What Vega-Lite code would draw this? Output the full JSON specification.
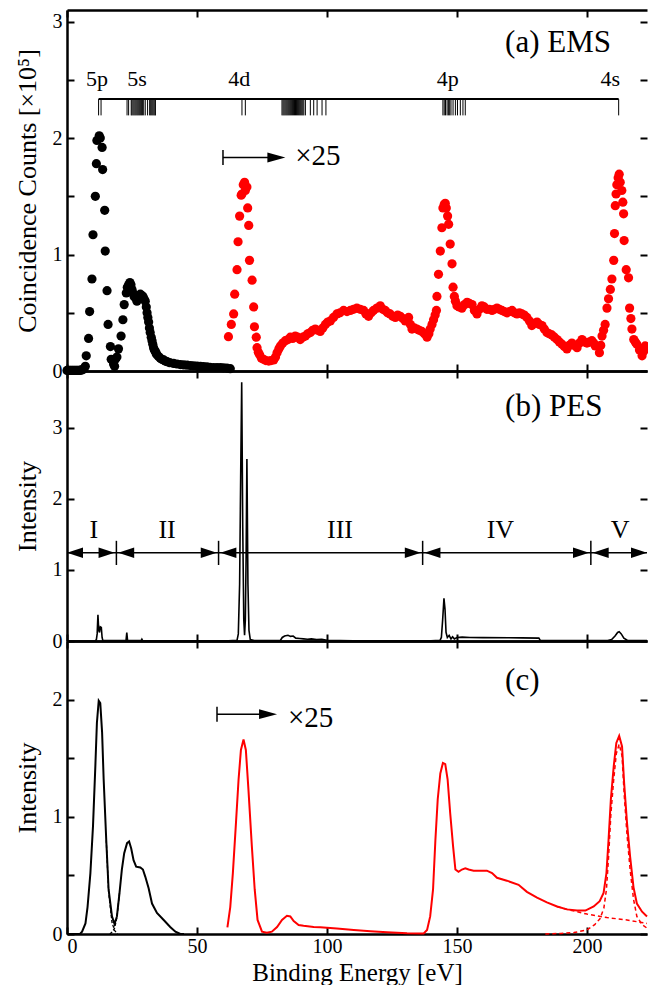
{
"$schema": "https://vega.github.io/schema/vega-lite/v6.json",
"padding": {"left": 14, "top": 9, "right": 0, "bottom": 0},
"spacing": 0,
"bounds": "flush",
"config": {
  "font": "Liberation Serif",
  "view": {"stroke": null},
  "axis": {"domain": true, "domainColor": "black", "domainWidth": 2.5, "grid": false, "tickColor": "black", "tickWidth": 2, "tickSize": -7, "labelColor": "black", "labelFontSize": 20, "titleFontSize": 26, "titleFontWeight": "normal", "titleColor": "black", "labelFont": "Liberation Serif", "titleFont": "Liberation Serif"},
  "text": {"font": "Liberation Serif", "color": "black"}
},
"datasets": {
  "ems_black": [
    {"E":0,"C":0.005},{"E":0.5,"C":0.005},{"E":1,"C":0.005},{"E":1.5,"C":0.005},{"E":2,"C":0.005},{"E":2.5,"C":0.005},{"E":3,"C":0.005},{"E":3.5,"C":0.005},{"E":4,"C":0.005},{"E":4.5,"C":0.005},{"E":5,"C":0.005},{"E":5.5,"C":0.01},{"E":6,"C":0.01},{"E":6.5,"C":0.02},{"E":7.05,"C":0.04},{"E":7.4,"C":0.13},{"E":8.3,"C":0.28},{"E":8.7,"C":0.51},{"E":9.6,"C":0.79},{"E":10.0,"C":1.17},{"E":10.9,"C":1.5},{"E":11.3,"C":1.78},{"E":11.5,"C":1.98},{"E":12.4,"C":2.02},{"E":12.8,"C":2.0},{"E":13.5,"C":1.92},{"E":13.7,"C":1.73},{"E":14.5,"C":1.38},{"E":14.7,"C":1.03},{"E":15.4,"C":0.69},{"E":15.8,"C":0.4},{"E":16.7,"C":0.21},{"E":17.0,"C":0.1},{"E":17.9,"C":0.06},{"E":18.3,"C":0.04},{"E":18.6,"C":0.1},{"E":19.2,"C":0.12},{"E":19.8,"C":0.19},{"E":20.8,"C":0.3},{"E":21.5,"C":0.44},{"E":22.0,"C":0.57},{"E":22.8,"C":0.67},{"E":23.2,"C":0.72},{"E":23.7,"C":0.74},{"E":24.2,"C":0.76},{"E":24.6,"C":0.74},{"E":25.0,"C":0.7},{"E":25.4,"C":0.67},{"E":25.8,"C":0.64},{"E":26.3,"C":0.63},{"E":26.9,"C":0.6},{"E":27.4,"C":0.62},{"E":27.8,"C":0.65},{"E":28.2,"C":0.66},{"E":28.7,"C":0.65},{"E":29.2,"C":0.64},{"E":29.6,"C":0.62},{"E":30.1,"C":0.6},{"E":30.5,"C":0.55},{"E":30.8,"C":0.5},{"E":31.1,"C":0.46},{"E":31.4,"C":0.42},{"E":31.7,"C":0.37},{"E":32.0,"C":0.33},{"E":32.4,"C":0.29},{"E":32.7,"C":0.26},{"E":33.0,"C":0.23},{"E":33.3,"C":0.2},{"E":33.6,"C":0.18},{"E":34.0,"C":0.17},{"E":34.3,"C":0.15},{"E":34.6,"C":0.14},{"E":35.2,"C":0.125},{"E":35.9,"C":0.11},{"E":36.5,"C":0.1},{"E":37.2,"C":0.095},{"E":37.8,"C":0.085},{"E":38.5,"C":0.08},{"E":39.5,"C":0.072},{"E":41.0,"C":0.065},{"E":42.3,"C":0.06},{"E":43.6,"C":0.055},{"E":44.9,"C":0.052},{"E":46.2,"C":0.05},{"E":47.5,"C":0.047},{"E":48.7,"C":0.045},{"E":50,"C":0.042},{"E":51.3,"C":0.04},{"E":52.5,"C":0.037},{"E":53.8,"C":0.035},{"E":55,"C":0.032},{"E":56.4,"C":0.03},{"E":57.7,"C":0.03},{"E":59,"C":0.03},{"E":60.2,"C":0.027},{"E":61.5,"C":0.025},{"E":62.8,"C":0.02}
  ],
  "ems_red": [
    {"E":62.1,"C":0.295},{"E":63.2,"C":0.4},{"E":64.1,"C":0.49},{"E":64.5,"C":0.66},{"E":65.4,"C":0.87},{"E":65.8,"C":1.11},{"E":66.4,"C":1.33},{"E":67.0,"C":1.51},{"E":67.3,"C":1.52},{"E":67.8,"C":1.6},{"E":68.3,"C":1.62},{"E":68.6,"C":1.55},{"E":69.2,"C":1.58},{"E":69.5,"C":1.4},{"E":69.9,"C":1.25},{"E":70.2,"C":0.95},{"E":71.2,"C":0.78},{"E":71.8,"C":0.55},{"E":72.1,"C":0.38},{"E":72.8,"C":0.29},{"E":73.1,"C":0.2},{"E":73.6,"C":0.16},{"E":74.1,"C":0.14},{"E":74.8,"C":0.11},{"E":75.6,"C":0.1},{"E":76.5,"C":0.09},{"E":77.6,"C":0.085},{"E":78.5,"C":0.09},{"E":79.5,"C":0.095},{"E":80.2,"C":0.12},{"E":80.8,"C":0.157},{"E":81.5,"C":0.19},{"E":82.1,"C":0.215},{"E":83,"C":0.24},{"E":84,"C":0.26},{"E":85,"C":0.27},{"E":85.9,"C":0.29},{"E":86.8,"C":0.28},{"E":87.8,"C":0.3},{"E":88.7,"C":0.29},{"E":89.7,"C":0.27},{"E":90.7,"C":0.29},{"E":91.7,"C":0.3},{"E":92.6,"C":0.32},{"E":93.6,"C":0.33},{"E":94.5,"C":0.35},{"E":95.5,"C":0.36},{"E":96.4,"C":0.35},{"E":97.4,"C":0.34},{"E":98.4,"C":0.37},{"E":99.4,"C":0.4},{"E":100.3,"C":0.42},{"E":101.3,"C":0.43},{"E":102.5,"C":0.46},{"E":103.8,"C":0.49},{"E":105,"C":0.5},{"E":106.4,"C":0.52},{"E":107.7,"C":0.51},{"E":109,"C":0.52},{"E":110.2,"C":0.53},{"E":111.5,"C":0.54},{"E":112.8,"C":0.53},{"E":114.1,"C":0.52},{"E":115,"C":0.49},{"E":116,"C":0.47},{"E":117,"C":0.5},{"E":117.9,"C":0.52},{"E":119.2,"C":0.54},{"E":120.5,"C":0.56},{"E":121.5,"C":0.53},{"E":122.4,"C":0.52},{"E":123.3,"C":0.5},{"E":124.3,"C":0.49},{"E":125.3,"C":0.47},{"E":126.3,"C":0.46},{"E":127.2,"C":0.48},{"E":128.2,"C":0.47},{"E":129.2,"C":0.45},{"E":130.1,"C":0.43},{"E":131.4,"C":0.46},{"E":132.1,"C":0.4},{"E":132.7,"C":0.36},{"E":133.6,"C":0.37},{"E":134.6,"C":0.36},{"E":135.5,"C":0.35},{"E":136.5,"C":0.34},{"E":137.5,"C":0.32},{"E":138.5,"C":0.29},{"E":139.2,"C":0.32},{"E":139.7,"C":0.36},{"E":140.4,"C":0.4},{"E":141,"C":0.44},{"E":141.6,"C":0.48},{"E":142.1,"C":0.52},{"E":142.3,"C":0.64},{"E":142.9,"C":0.83},{"E":143.6,"C":1.03},{"E":144.2,"C":1.23},{"E":144.6,"C":1.4},{"E":145.1,"C":1.43},{"E":145.5,"C":1.44},{"E":145.9,"C":1.4},{"E":146.4,"C":1.33},{"E":146.8,"C":1.26},{"E":147.4,"C":1.09},{"E":148.1,"C":0.92},{"E":148.5,"C":0.72},{"E":149,"C":0.64},{"E":149.4,"C":0.6},{"E":150,"C":0.56},{"E":150.9,"C":0.55},{"E":151.9,"C":0.54},{"E":152.9,"C":0.57},{"E":153.9,"C":0.59},{"E":154.8,"C":0.58},{"E":155.8,"C":0.57},{"E":156.7,"C":0.52},{"E":157.7,"C":0.49},{"E":158.6,"C":0.53},{"E":159.6,"C":0.56},{"E":160.5,"C":0.55},{"E":161.5,"C":0.53},{"E":162.5,"C":0.53},{"E":163.5,"C":0.52},{"E":164.4,"C":0.53},{"E":165.4,"C":0.54},{"E":166.3,"C":0.53},{"E":167.3,"C":0.52},{"E":168.2,"C":0.51},{"E":169.2,"C":0.5},{"E":170.2,"C":0.51},{"E":171.2,"C":0.52},{"E":172.1,"C":0.5},{"E":173.1,"C":0.49},{"E":174,"C":0.5},{"E":175,"C":0.49},{"E":175.9,"C":0.48},{"E":176.9,"C":0.46},{"E":177.9,"C":0.43},{"E":178.8,"C":0.39},{"E":179.8,"C":0.41},{"E":180.8,"C":0.42},{"E":181.7,"C":0.4},{"E":182.7,"C":0.39},{"E":183.6,"C":0.36},{"E":184.6,"C":0.33},{"E":185.5,"C":0.32},{"E":186.5,"C":0.31},{"E":187.5,"C":0.29},{"E":188.5,"C":0.27},{"E":189.4,"C":0.25},{"E":190.4,"C":0.23},{"E":191.3,"C":0.21},{"E":192.3,"C":0.19},{"E":193.2,"C":0.22},{"E":194.2,"C":0.24},{"E":195.2,"C":0.22},{"E":196.2,"C":0.2},{"E":197.1,"C":0.24},{"E":198.1,"C":0.27},{"E":199,"C":0.25},{"E":200,"C":0.24},{"E":201,"C":0.25},{"E":201.9,"C":0.26},{"E":202.6,"C":0.24},{"E":203.2,"C":0.215},{"E":204.8,"C":0.157},{"E":205.3,"C":0.22},{"E":205.8,"C":0.3},{"E":206.4,"C":0.35},{"E":207,"C":0.4},{"E":207.7,"C":0.54},{"E":208.3,"C":0.62},{"E":209,"C":0.7},{"E":209.6,"C":0.79},{"E":210.3,"C":0.95},{"E":210.6,"C":1.18},{"E":210.9,"C":1.42},{"E":211.2,"C":1.52},{"E":211.5,"C":1.6},{"E":212.0,"C":1.66},{"E":212.4,"C":1.69},{"E":212.8,"C":1.62},{"E":213.4,"C":1.55},{"E":213.8,"C":1.45},{"E":214.1,"C":1.35},{"E":214.3,"C":1.12},{"E":215.1,"C":0.87},{"E":216,"C":0.8},{"E":216.4,"C":0.54},{"E":216.9,"C":0.45},{"E":217.3,"C":0.36},{"E":218,"C":0.27},{"E":218.6,"C":0.25},{"E":219.2,"C":0.23},{"E":220.2,"C":0.18},{"E":221.2,"C":0.13},{"E":221.8,"C":0.17},{"E":222.4,"C":0.215},{"E":223,"C":0.2}
  ],
  "comb_ticks": [
    {"E":12.15},{"E":13.1},
    {"E":23.1},{"E":23.7},{"E":24.7},{"E":25.0},{"E":25.4},{"E":25.8},{"E":26.2},{"E":26.6},{"E":27.0},{"E":27.4},{"E":27.8},{"E":28.2},{"E":28.6},{"E":29.0},{"E":29.5},{"E":30.1},{"E":31.0},{"E":31.8},{"E":32.2},{"E":32.6},{"E":33.0},{"E":33.4},{"E":33.8},{"E":34.0},
    {"E":67.3},{"E":68.6},
    {"E":82.7},{"E":83.1},{"E":83.5},{"E":83.9},{"E":84.3},{"E":84.7},{"E":85.1},{"E":85.5},{"E":85.9},{"E":86.3},{"E":86.7},{"E":87.1},{"E":87.5},{"E":87.9},{"E":88.3},{"E":88.7},{"E":89.1},{"E":89.5},{"E":89.9},{"E":90.3},{"E":90.7},{"E":91.1},{"E":91.7},{"E":93.6},{"E":94.9},{"E":96.2},{"E":98.1},{"E":99.6},
    {"E":144.6},{"E":145.1},{"E":145.6},{"E":146.2},{"E":146.7},{"E":147.2},{"E":147.7},{"E":148.5},{"E":149.4},{"E":150.2},{"E":151.3},{"E":152.3},{"E":153.2},
    {"E":212.2}
  ],
  "comb_labels": [
    {"E":11.5,"t":"5p"},{"E":26.9,"t":"5s"},{"E":66.3,"t":"4d"},{"E":146.5,"t":"4p"},{"E":209,"t":"4s"}
  ],
  "pes": [
    {"E":0,"I":0},{"E":10.8,"I":0},{"E":11.3,"I":0.02},{"E":11.6,"I":0.1},{"E":11.9,"I":0.37},{"E":12.2,"I":0.15},{"E":12.5,"I":0.12},{"E":12.8,"I":0.2},{"E":13.2,"I":0.19},{"E":13.5,"I":0.05},{"E":13.8,"I":0.005},{"E":22.7,"I":0.005},{"E":23.0,"I":0.12},{"E":23.3,"I":0.005},{"E":28.5,"I":0.005},{"E":28.8,"I":0.025},{"E":29.1,"I":0.005},{"E":40,"I":0.003},{"E":62,"I":0.003},{"E":65.4,"I":0.01},{"E":65.9,"I":0.1},{"E":66.4,"I":0.8},{"E":66.8,"I":2.3},{"E":67.2,"I":3.64},{"E":67.6,"I":1.6},{"E":68.0,"I":0.3},{"E":68.3,"I":0.08},{"E":68.6,"I":0.3},{"E":68.9,"I":1.2},{"E":69.2,"I":2.56},{"E":69.6,"I":0.8},{"E":70.0,"I":0.15},{"E":70.5,"I":0.02},{"E":72,"I":0.005},{"E":82,"I":0.005},{"E":82.8,"I":0.05},{"E":83.7,"I":0.07},{"E":85,"I":0.08},{"E":86,"I":0.065},{"E":87,"I":0.07},{"E":88,"I":0.04},{"E":89.5,"I":0.035},{"E":91,"I":0.03},{"E":92.5,"I":0.025},{"E":94,"I":0.03},{"E":96,"I":0.02},{"E":98,"I":0.025},{"E":100,"I":0.01},{"E":110,"I":0.004},{"E":140,"I":0.004},{"E":143.5,"I":0.01},{"E":144.0,"I":0.05},{"E":144.5,"I":0.3},{"E":145.0,"I":0.6},{"E":145.4,"I":0.45},{"E":145.8,"I":0.12},{"E":146.3,"I":0.05},{"E":147,"I":0.08},{"E":147.7,"I":0.03},{"E":148.3,"I":0.06},{"E":149,"I":0.03},{"E":150,"I":0.05},{"E":152,"I":0.055},{"E":155,"I":0.05},{"E":160,"I":0.048},{"E":170,"I":0.045},{"E":175,"I":0.044},{"E":181.5,"I":0.04},{"E":182,"I":0.01},{"E":185,"I":0.005},{"E":208,"I":0.005},{"E":209.5,"I":0.02},{"E":210.8,"I":0.07},{"E":211.8,"I":0.12},{"E":212.4,"I":0.13},{"E":213.2,"I":0.1},{"E":214.2,"I":0.04},{"E":215.5,"I":0.01},{"E":217,"I":0.005},{"E":223.1,"I":0.005}
  ],
  "region_bars": [{"E":19},{"E":58.3},{"E":136.8},{"E":201.5}],
  "heads_right": [{"E":18.3},{"E":57.6},{"E":136.1},{"E":200.8},{"E":223.1}],
  "heads_left": [{"E":0},{"E":19.7},{"E":59.0},{"E":137.5},{"E":202.2}],
  "region_labels": [{"E":10.3,"t":"I"},{"E":38.5,"t":"II"},{"E":105,"t":"III"},{"E":166.7,"t":"IV"},{"E":212.8,"t":"V"}],
  "c_black": [
    {"E":0,"I":0},{"E":5,"I":0},{"E":5.8,"I":0.02},{"E":7.1,"I":0.09},{"E":7.9,"I":0.23},{"E":9,"I":0.52},{"E":10,"I":0.92},{"E":10.9,"I":1.43},{"E":11.5,"I":1.8},{"E":12.2,"I":1.99},{"E":12.8,"I":1.97},{"E":13.5,"I":1.72},{"E":14.1,"I":1.32},{"E":15.1,"I":0.8},{"E":16,"I":0.38},{"E":17.3,"I":0.15},{"E":18.3,"I":0.085},{"E":19.2,"I":0.15},{"E":20.2,"I":0.35},{"E":21.1,"I":0.55},{"E":22.0,"I":0.69},{"E":23.1,"I":0.775},{"E":23.9,"I":0.79},{"E":24.7,"I":0.73},{"E":25.6,"I":0.63},{"E":26.6,"I":0.575},{"E":28.2,"I":0.567},{"E":29.2,"I":0.55},{"E":30.1,"I":0.49},{"E":31.4,"I":0.39},{"E":32.7,"I":0.26},{"E":34.6,"I":0.18},{"E":37.2,"I":0.12},{"E":39.7,"I":0.06},{"E":41.7,"I":0.02},{"E":43.6,"I":0.0},{"E":45,"I":0.0}
  ],
  "c_black_5p": [{"E":15.1,"I":0.8},{"E":16,"I":0.36},{"E":17.3,"I":0.1},{"E":18.3,"I":0.03},{"E":19.5,"I":0.0}],
  "c_black_5s": [{"E":16.5,"I":0.0},{"E":17.5,"I":0.02},{"E":18.3,"I":0.05},{"E":19.2,"I":0.14},{"E":20.2,"I":0.35}],
  "c_red": [
    {"E":61.7,"I":0.057},{"E":62.8,"I":0.23},{"E":63.8,"I":0.52},{"E":65.0,"I":0.95},{"E":66.0,"I":1.32},{"E":66.9,"I":1.57},{"E":67.9,"I":1.66},{"E":68.8,"I":1.57},{"E":69.8,"I":1.23},{"E":71.1,"I":0.75},{"E":72.2,"I":0.38},{"E":73.3,"I":0.12},{"E":75,"I":0.02},{"E":76.9,"I":0.01},{"E":78.8,"I":0.02},{"E":80.8,"I":0.06},{"E":82.7,"I":0.12},{"E":84.6,"I":0.155},{"E":85.9,"I":0.15},{"E":87.2,"I":0.11},{"E":89.1,"I":0.077},{"E":91,"I":0.07},{"E":94.9,"I":0.06},{"E":97.4,"I":0.057},{"E":103.8,"I":0.046},{"E":110.3,"I":0.034},{"E":116.7,"I":0.023},{"E":123.1,"I":0.014},{"E":130.8,"I":0.006},{"E":137.2,"I":0.005},{"E":138.5,"I":0.034},{"E":139.7,"I":0.15},{"E":140.8,"I":0.38},{"E":141.7,"I":0.8},{"E":142.6,"I":1.15},{"E":143.6,"I":1.37},{"E":144.6,"I":1.46},{"E":145.5,"I":1.45},{"E":146.4,"I":1.32},{"E":147.4,"I":1.03},{"E":148.5,"I":0.75},{"E":149.4,"I":0.55},{"E":150.6,"I":0.53},{"E":151.9,"I":0.55},{"E":153.2,"I":0.56},{"E":154.5,"I":0.55},{"E":156.4,"I":0.54},{"E":158.3,"I":0.54},{"E":161.5,"I":0.54},{"E":163.5,"I":0.52},{"E":165.4,"I":0.48},{"E":169.2,"I":0.455},{"E":173.7,"I":0.42},{"E":176.9,"I":0.36},{"E":180.8,"I":0.31},{"E":184.6,"I":0.27},{"E":188.5,"I":0.235},{"E":192.3,"I":0.21},{"E":196.2,"I":0.2},{"E":199.4,"I":0.2},{"E":202.6,"I":0.235},{"E":204.9,"I":0.28},{"E":206.4,"I":0.35},{"E":207.5,"I":0.52},{"E":208.3,"I":0.8},{"E":209.2,"I":1.15},{"E":210.3,"I":1.43},{"E":211.3,"I":1.63},{"E":212.4,"I":1.69},{"E":213.5,"I":1.6},{"E":214.3,"I":1.29},{"E":215.4,"I":0.95},{"E":216.6,"I":0.66},{"E":217.9,"I":0.4},{"E":219.2,"I":0.26},{"E":221.2,"I":0.19},{"E":223.1,"I":0.15}
  ],
  "c_red_tail": [{"E":188.5,"I":0.235},{"E":192.3,"I":0.21},{"E":196.2,"I":0.19},{"E":200,"I":0.17},{"E":203.8,"I":0.155},{"E":207.7,"I":0.14},{"E":211.5,"I":0.13},{"E":215.4,"I":0.12},{"E":219.2,"I":0.105},{"E":223.1,"I":0.09}],
  "c_red_4s": [{"E":184,"I":0.0},{"E":190,"I":0.005},{"E":195,"I":0.012},{"E":200,"I":0.035},{"E":203,"I":0.08},{"E":205,"I":0.13},{"E":206.5,"I":0.22},{"E":207.5,"I":0.38},{"E":208.3,"I":0.65},{"E":209.2,"I":1.02},{"E":210.3,"I":1.32},{"E":211.3,"I":1.54},{"E":212.4,"I":1.62},{"E":213.5,"I":1.52},{"E":214.3,"I":1.2},{"E":215.4,"I":0.85},{"E":216.6,"I":0.55},{"E":217.9,"I":0.3},{"E":219.2,"I":0.15},{"E":221.2,"I":0.08},{"E":223.1,"I":0.05}],
  "one": [{}]
},
"vconcat": [
  {
    "width": 580, "height": 361,
    "layer": [
      {"data": {"name": "ems_black"}, "mark": {"type": "point", "filled": true, "size": 85, "color": "black", "opacity": 1},
       "encoding": {
         "x": {"field": "E", "type": "quantitative", "scale": {"domain": [0, 223.1], "nice": false, "zero": false}, "axis": {"orient": "bottom", "values": [0,50,100,150,200], "labels": false, "title": null}},
         "y": {"field": "C", "type": "quantitative", "scale": {"domain": [0, 3.1], "nice": false}, "axis": {"orient": "left", "values": [0,0.5,1,1.5,2,2.5,3], "labelExpr": "datum.value % 1 === 0 ? format(datum.value, 'd') : ''", "labelPadding": 12, "titlePadding": 12, "title": "Coincidence Counts [×10⁵]"}}
       }},
      {"data": {"name": "ems_red"}, "mark": {"type": "point", "filled": true, "size": 85, "color": "#ff0000", "opacity": 1},
       "encoding": {
         "x": {"field": "E", "type": "quantitative", "axis": {"orient": "top", "values": [0,50,100,150,200], "labels": false, "title": null}},
         "y": {"field": "C", "type": "quantitative", "axis": {"orient": "right", "domain": false, "values": [0,0.5,1,1.5,2,2.5,3], "labels": false, "title": null}}
       }},
      {"data": {"name": "one"}, "mark": {"type": "rule", "color": "black", "strokeWidth": 2},
       "encoding": {"x": {"datum": 12.15, "type": "quantitative", "axis": null}, "x2": {"datum": 212.2}, "y": {"datum": 2.335, "type": "quantitative", "axis": null}}},
      {"data": {"name": "comb_ticks"}, "mark": {"type": "rule", "color": "black", "strokeWidth": 1},
       "encoding": {"x": {"field": "E", "type": "quantitative", "axis": null}, "y": {"datum": 2.335, "type": "quantitative", "axis": null}, "y2": {"datum": 2.195}}},
      {"data": {"name": "comb_labels"}, "mark": {"type": "text", "fontSize": 22, "align": "center", "baseline": "alphabetic"},
       "encoding": {"x": {"field": "E", "type": "quantitative", "axis": null}, "y": {"datum": 2.45, "type": "quantitative", "axis": null}, "text": {"field": "t"}}},
      {"data": {"name": "one"}, "mark": {"type": "rule", "color": "black", "strokeWidth": 1.5},
       "encoding": {"x": {"datum": 60, "type": "quantitative", "axis": null}, "y": {"datum": 1.77, "type": "quantitative", "axis": null}, "y2": {"datum": 1.898}}},
      {"data": {"name": "one"}, "mark": {"type": "rule", "color": "black", "strokeWidth": 1.5},
       "encoding": {"x": {"datum": 60, "type": "quantitative", "axis": null}, "x2": {"datum": 80}, "y": {"datum": 1.834, "type": "quantitative", "axis": null}}},
      {"data": {"name": "one"}, "mark": {"type": "point", "filled": true, "color": "black", "opacity": 1, "size": 324, "shape": "M0,0L-2,-0.55L-2,0.55Z"},
       "encoding": {"x": {"datum": 84, "type": "quantitative", "axis": null}, "y": {"datum": 1.834, "type": "quantitative", "axis": null}}},
      {"data": {"name": "one"}, "mark": {"type": "text", "text": "×25", "fontSize": 29, "align": "left", "baseline": "alphabetic"},
       "encoding": {"x": {"datum": 87.8, "type": "quantitative", "axis": null}, "y": {"datum": 1.765, "type": "quantitative", "axis": null}}},
      {"data": {"name": "one"}, "mark": {"type": "text", "text": "(a) EMS", "fontSize": 31, "align": "left", "baseline": "alphabetic"},
       "encoding": {"x": {"datum": 168.5, "type": "quantitative", "axis": null}, "y": {"datum": 2.737, "type": "quantitative", "axis": null}}}
    ]
  },
  {
    "width": 580, "height": 270,
    "layer": [
      {"data": {"name": "pes"}, "mark": {"type": "line", "color": "black", "strokeWidth": 1.6},
       "encoding": {
         "x": {"field": "E", "type": "quantitative", "scale": {"domain": [0, 223.1], "nice": false, "zero": false}, "axis": {"orient": "bottom", "values": [0,50,100,150,200], "labels": false, "title": null}},
         "y": {"field": "I", "type": "quantitative", "scale": {"domain": [0, 3.8], "nice": false}, "axis": {"orient": "left", "values": [0,1,2,3], "labelPadding": 12, "titlePadding": 12, "title": "Intensity"}}
       }},
      {"data": {"name": "region_bars"}, "mark": {"type": "rule", "color": "black", "strokeWidth": 1.5},
       "encoding": {
         "x": {"field": "E", "type": "quantitative", "axis": {"orient": "top", "values": [0,50,100,150,200], "labels": false, "title": null}},
         "y": {"datum": 1.07, "type": "quantitative", "axis": {"orient": "right", "domain": false, "values": [0,1,2,3], "labels": false, "title": null}},
         "y2": {"datum": 1.41}
       }},
      {"data": {"name": "one"}, "mark": {"type": "rule", "color": "black", "strokeWidth": 1.6},
       "encoding": {"x": {"datum": 0, "type": "quantitative", "axis": null}, "x2": {"datum": 223.1}, "y": {"datum": 1.243, "type": "quantitative", "axis": null}}},
      {"data": {"name": "heads_right"}, "mark": {"type": "point", "filled": true, "color": "black", "opacity": 1, "size": 256, "shape": "M0,0L-2,-0.65L-2,0.65Z"},
       "encoding": {"x": {"field": "E", "type": "quantitative", "axis": null}, "y": {"datum": 1.243, "type": "quantitative", "axis": null}}},
      {"data": {"name": "heads_left"}, "mark": {"type": "point", "filled": true, "color": "black", "opacity": 1, "size": 256, "shape": "M0,0L2,-0.65L2,0.65Z"},
       "encoding": {"x": {"field": "E", "type": "quantitative", "axis": null}, "y": {"datum": 1.243, "type": "quantitative", "axis": null}}},
      {"data": {"name": "region_labels"}, "mark": {"type": "text", "fontSize": 26, "align": "center", "baseline": "alphabetic"},
       "encoding": {"x": {"field": "E", "type": "quantitative", "axis": null}, "y": {"datum": 1.445, "type": "quantitative", "axis": null}, "text": {"field": "t"}}},
      {"data": {"name": "one"}, "mark": {"type": "text", "text": "(b) PES", "fontSize": 31, "align": "left", "baseline": "alphabetic"},
       "encoding": {"x": {"datum": 168.5, "type": "quantitative", "axis": null}, "y": {"datum": 3.17, "type": "quantitative", "axis": null}}}
    ]
  },
  {
    "width": 580, "height": 293,
    "layer": [
      {"data": {"name": "c_black"}, "mark": {"type": "line", "color": "black", "strokeWidth": 2},
       "encoding": {
         "x": {"field": "E", "type": "quantitative", "scale": {"domain": [0, 223.1], "nice": false, "zero": false}, "axis": {"orient": "bottom", "values": [0,50,100,150,200], "labelPadding": 9, "titlePadding": 4, "title": "Binding Energy [eV]", "titleFontSize": 25}},
         "y": {"field": "I", "type": "quantitative", "scale": {"domain": [0, 2.5], "nice": false}, "axis": {"orient": "left", "values": [0,0.5,1,1.5,2], "labelExpr": "datum.value % 1 === 0 ? format(datum.value, 'd') : ''", "labelPadding": 12, "titlePadding": 12, "title": "Intensity"}}
       }},
      {"data": {"name": "c_red"}, "mark": {"type": "line", "color": "#ff0000", "strokeWidth": 2},
       "encoding": {
         "x": {"field": "E", "type": "quantitative", "axis": {"orient": "top", "values": [0,50,100,150,200], "labels": false, "title": null}},
         "y": {"field": "I", "type": "quantitative", "axis": {"orient": "right", "domain": false, "values": [0,0.5,1,1.5,2], "labels": false, "title": null}}
       }},
      {"data": {"name": "c_black_5p"}, "mark": {"type": "line", "color": "black", "strokeWidth": 1.3, "strokeDash": [3, 2]},
       "encoding": {"x": {"field": "E", "type": "quantitative", "axis": null}, "y": {"field": "I", "type": "quantitative", "axis": null}}},
      {"data": {"name": "c_black_5s"}, "mark": {"type": "line", "color": "black", "strokeWidth": 1.3, "strokeDash": [3, 2]},
       "encoding": {"x": {"field": "E", "type": "quantitative", "axis": null}, "y": {"field": "I", "type": "quantitative", "axis": null}}},
      {"data": {"name": "c_red_tail"}, "mark": {"type": "line", "color": "#ff0000", "strokeWidth": 1.5, "strokeDash": [4, 3]},
       "encoding": {"x": {"field": "E", "type": "quantitative", "axis": null}, "y": {"field": "I", "type": "quantitative", "axis": null}}},
      {"data": {"name": "c_red_4s"}, "mark": {"type": "line", "color": "#ff0000", "strokeWidth": 1.5, "strokeDash": [4, 3]},
       "encoding": {"x": {"field": "E", "type": "quantitative", "axis": null}, "y": {"field": "I", "type": "quantitative", "axis": null}}},
      {"data": {"name": "one"}, "mark": {"type": "rule", "color": "black", "strokeWidth": 1.5},
       "encoding": {"x": {"datum": 57.7, "type": "quantitative", "axis": null}, "y": {"datum": 1.812, "type": "quantitative", "axis": null}, "y2": {"datum": 1.94}}},
      {"data": {"name": "one"}, "mark": {"type": "rule", "color": "black", "strokeWidth": 1.5},
       "encoding": {"x": {"datum": 57.7, "type": "quantitative", "axis": null}, "x2": {"datum": 77}, "y": {"datum": 1.876, "type": "quantitative", "axis": null}}},
      {"data": {"name": "one"}, "mark": {"type": "point", "filled": true, "color": "black", "opacity": 1, "size": 324, "shape": "M0,0L-2,-0.55L-2,0.55Z"},
       "encoding": {"x": {"datum": 80.8, "type": "quantitative", "axis": null}, "y": {"datum": 1.876, "type": "quantitative", "axis": null}}},
      {"data": {"name": "one"}, "mark": {"type": "text", "text": "×25", "fontSize": 29, "align": "left", "baseline": "alphabetic"},
       "encoding": {"x": {"datum": 85, "type": "quantitative", "axis": null}, "y": {"datum": 1.77, "type": "quantitative", "axis": null}}},
      {"data": {"name": "one"}, "mark": {"type": "text", "text": "(c)", "fontSize": 31, "align": "left", "baseline": "alphabetic"},
       "encoding": {"x": {"datum": 168.5, "type": "quantitative", "axis": null}, "y": {"datum": 2.085, "type": "quantitative", "axis": null}}}
    ]
  }
]
}
